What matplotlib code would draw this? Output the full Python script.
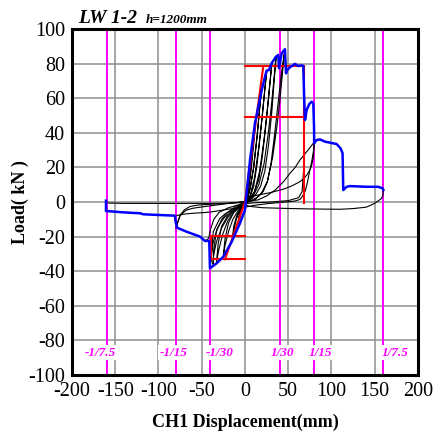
import matplotlib
matplotlib.use('Agg')
import matplotlib.pyplot as plt

plt.rcParams['font.family'] = ['Liberation Serif', 'DejaVu Serif']
plt.rcParams['axes.unicode_minus'] = False

# drift limit lines (h = 1200 mm)
drift_x = [-160, -80, -40, 40, 80, 160]
drift_labels = ['-1/7.5', '-1/15', '-1/30', '1/30', '1/15', '1/7.5']
drift_label_x = [-167, -83, -29, 43, 87, 173]

# skeleton (envelope) curve, blue
env_x = [-160.7, -160.7, -140, -121.4, -117.6, -100, -81, -80, -78.3, -67.4, -52, -46.3, -41.3, -40.5,
         -32.7, -25, -15.4, -5.8, 0, 5.8, 11.5, 15.4, 19.3, 23.1, 25, 27.7, 30.8, 35.8, 38.5, 39.3,
         42.4, 46.2, 47.4, 48.9, 52, 57.8, 61.6, 65.5, 67.4, 68.4, 69.4, 71.3, 74.3, 77, 79, 79.8,
         80, 82.8, 86.6, 92.4, 98.2, 105.9, 110.5, 112.8, 113.6, 117.5, 121.4, 140.6, 154, 159.2, 160]
env_y = [0.8, -5.2, -6, -6.5, -7.1, -7.5, -7.9, -12, -14.9, -17.2, -20, -22.5, -22.5, -38.3,
         -35.4, -31.6, -23, -12.3, -4.6, 24.3, 45.5, 55.1, 64.7, 72.4, 75.9, 76.3, 80.2, 84, 85, 77.3,
         86, 88.3, 74.4, 76.3, 77.9, 79.8, 78.6, 79, 78.6, 60, 47.4, 53.2, 56.6, 58, 57, 43.5,
         33.9, 35.8, 36.2, 34.9, 34.3, 33.5, 31, 28.2, 6.9, 8.8, 9.2, 8.8, 8.8, 7.9, 7]

# hysteresis loops, black
c1_x = [0, 2, 5, 8, 7, 4, 1, -2, -5, -7, -5, -2, 0]
c1_y = [0, 6, 18, 30, 22, 8, 1, -2, -6, -10, -5, -1, 0]
c2_x = [0, 2, 5, 8, 11, 12, 10, 7, 4, 1, -2, -5, -8, -7, -4, -1, 0]
c2_y = [0, 3, 12, 26, 40, 45, 33, 18, 6, 1, -2, -7, -14, -8, -3, -1, 0]
c3_x = [0, 3, 6, 10, 14, 17, 19, 17, 14, 10, 6, 2, -2, -6, -10, -13, -15, -13, -9, -5, -1, 2]
c3_y = [0, 2, 8, 20, 38, 54, 64, 55, 38, 20, 8, 1, -2, -5, -10, -17, -23, -14, -7, -3, -1, 1]
c4_x = [2, 6, 10, 14, 18, 22, 25, 23, 20, 16, 11, 6, 2, -3, -8, -14, -19, -23, -25, -23, -19, -13, -7, -2, 1]
c4_y = [1, 3, 9, 22, 40, 60, 75, 66, 50, 32, 14, 4, 0, -2, -5, -10, -17, -25, -31, -21, -12, -6, -3, -1, 0]
c5_x = [1, 6, 11, 16, 20, 24, 28, 31, 29, 26, 22, 17, 11, 5, 0, -6, -13, -20, -26, -30, -33, -31, -27, -20, -12, -5, 0]
c5_y = [0, 2, 6, 13, 26, 44, 64, 80, 70, 54, 36, 18, 6, 1, -1, -3, -6, -11, -19, -27, -35, -24, -14, -8, -4, -2, 0]
c6_x = [0, 6, 12, 18, 23, 27, 31, 34, 36, 34, 31, 27, 22, 16, 9, 3, -4, -12, -20, -27, -33, -36, -37, -36, -33, -27, -20, -12, -5, 0]
c6_y = [0, 1, 4, 9, 18, 32, 52, 72, 84, 74, 58, 40, 22, 10, 3, 0, -2, -5, -9, -15, -23, -30, -36, -27, -17, -10, -6, -3, -1, 0]
c7_x = [0, 8, 15, 21, 26, 30, 34, 38, 42, 46, 44, 41, 37, 32, 26, 19, 11, 4, -4, -14, -24, -32, -37, -40.5,
        -39, -38.6, -36.7, -29, -22, -13.6, -5, 0]
c7_y = [0, 1, 3, 6, 12, 22, 38, 56, 74, 88, 78, 62, 44, 26, 12, 5, 1, 0, -2, -5, -9, -15, -24, -38.3,
        -32, -27.7, -17.2, -9.4, -6.5, -4.6, -1.5, 0]
c8_x = [68.4, 68, 66, 62, 50, 30, 10, 0, -10, -20, -30, -36, -40, -42, -46.3]
c8_y = [47.4, 20, 6, 2.5, 0.8, 0, -0.5, -1, -2, -3.5, -6, -10, -16, -21, -22.5]
n80a_x = [-80, -78.3, -75, -70, -67.4, -60, -52, -40, -25, -10, 0]
n80a_y = [-15, -12.3, -8, -5.5, -4.6, -3.6, -3, -2.2, -1.2, -0.3, 0.3]
n80b_x = [-79, -77, -75, -70, -63.6, -55, -40.5, -25, -10, 0]
n80b_y = [-14, -10.5, -7.5, -4.5, -2.6, -1.8, -1.3, -0.9, -0.4, 0.3]
m80_x = [2, 5.8, 15, 30, 45, 55, 63.6, 68, 72, 75, 77, 79, 80]
m80_y = [1, 3.1, 4, 5.5, 7.5, 9.5, 11.8, 13.5, 16, 18.5, 21, 26, 34]
u80_x = [0, 8, 15, 25, 35, 45, 52, 58, 63.6, 68, 72, 76, 79]
u80_y = [0.5, 0.8, 1.2, 3.5, 7, 12, 16.6, 20, 24.3, 27, 29.5, 32, 34]
l80_x = [80, 79, 77, 75, 72, 69.4, 66, 63.6, 58, 52, 40, 25, 10, 0, -10, -20, -30, -40, -50, -60, -67, -73, -77, -80]
l80_y = [34, 29, 23, 18.5, 11, 6, 3, 1.5, 0.6, 0.2, -0.3, -1, -2, -3, -3.6, -4.2, -5, -5.8, -6.2, -6.5, -6.8, -7.2, -7.6, -8]
left_x = [-160.7, -158, -140, -120, -100, -80, -60, -40, -20, -5, 0]
left_y = [0.8, -0.6, -0.8, -0.8, -0.8, -0.8, -0.8, -0.8, -0.7, -0.3, 0]
u160_x = [160, 159.5, 158, 153, 147, 140, 125, 110, 90, 75, 55, 40, 20, 5, 0]
u160_y = [7, 4, 2.2, 0.2, -1.5, -3, -3.8, -4.2, -4.1, -4, -3.8, -3.6, -3.3, -2.5, -1.5]

loops = [(c1_x, c1_y), (c2_x, c2_y), (c3_x, c3_y), (c4_x, c4_y), (c5_x, c5_y), (c6_x, c6_y),
         (c7_x, c7_y), (c8_x, c8_y), (n80a_x, n80a_y), (n80b_x, n80b_y), (m80_x, m80_y),
         (u80_x, u80_y), (l80_x, l80_y), (left_x, left_y), (u160_x, u160_y)]

# idealized trilinear model, red
yield_pos = (21.2, 78.6)
yield_neg = (-23.1, -33.1)
pos_levels = [78.6, 49.3]
neg_levels = [-33.1, -19.7]
du_pos = 68.2
du_neg = -39.7

fig = plt.figure(figsize=(4.4, 4.38), dpi=100)
ax = fig.add_axes([0.1636, 0.1438, 0.7864, 0.79])

ax.set_xlim(-200, 200)
ax.set_ylim(-100, 100)
ax.set_xticks(range(-200, 201, 50))
ax.set_yticks(range(-100, 101, 20))
ax.grid(True, color='#8e8e8e', lw=1.1, zorder=0)
ax.set_axisbelow(True)
ax.tick_params(length=0, labelsize=14.5, pad=5)
for s in ax.spines.values():
    s.set_linewidth(2.2)
    s.set_zorder(10)

for dx in drift_x:
    ax.axvline(dx, color='#ff00ff', lw=1.4, zorder=1)

for lx, ly in loops:
    ax.plot(lx, ly, color='black', lw=0.8, zorder=2)

red = dict(color='#ff0000', lw=1.5, zorder=3)
ax.plot([0, yield_pos[0]], [0, yield_pos[1]], **red)
ax.plot([0, yield_neg[0]], [0, yield_neg[1]], **red)
for lv in pos_levels:
    ax.plot([0, du_pos], [lv, lv], **red)
for lv in neg_levels:
    ax.plot([du_neg, 0], [lv, lv], **red)
ax.plot([du_pos, du_pos], [pos_levels[0], -0.4], **red)
ax.plot([du_neg, du_neg], [neg_levels[0], neg_levels[1]], **red)

ax.plot(env_x, env_y, color='#0000ff', lw=1.8, zorder=4)

for lx, lab in zip(drift_label_x, drift_labels):
    ax.text(lx, -87, lab, color='#ff00ff', fontsize=9.5, fontweight='bold', fontstyle='italic',
            ha='center', va='center', zorder=6,
            bbox=dict(facecolor='white', edgecolor='none', pad=1))

ax.set_xlabel('CH1 Displacement(mm)', fontsize=13, fontweight='bold', labelpad=9)
ax.set_ylabel('Load( kN )', fontsize=13, fontweight='bold')
ax.yaxis.set_label_coords(-0.125, 0.5)

fig.text(78 / 440, 1 - 23 / 438, 'LW 1-2', fontsize=14, fontweight='bold', fontstyle='italic',
         ha='left', va='baseline')
fig.text(146 / 440, 1 - 23 / 438, 'h=1200mm', fontsize=9.5, fontweight='bold', fontstyle='italic',
         ha='left', va='baseline')

fig.savefig('out.png', dpi=100)
